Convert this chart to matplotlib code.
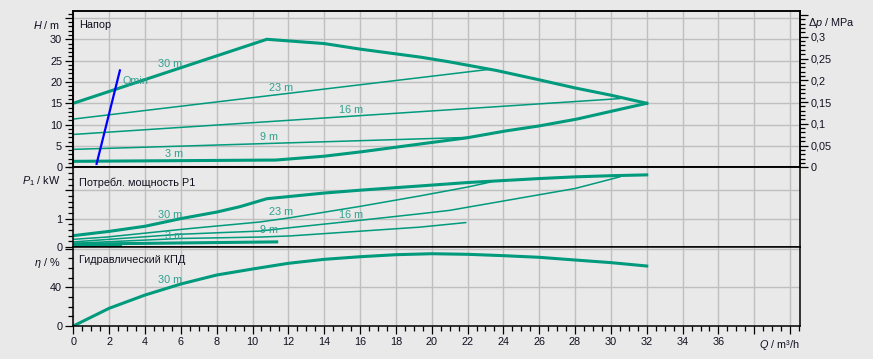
import matplotlib
matplotlib.use("Agg")
import matplotlib.pyplot as plt
import numpy as np
from matplotlib.ticker import FixedLocator, MultipleLocator

plt.rcParams['font.family'] = ['Liberation Sans', 'DejaVu Sans']
plt.rcParams['mathtext.fontset'] = 'custom'
plt.rcParams['mathtext.rm'] = 'Liberation Sans'
plt.rcParams['mathtext.it'] = 'Liberation Sans:italic'

# head curves, H / m over Q / m3/h
q_h30 = [0, 10.8, 14, 16, 19.4, 21, 23.6, 26, 28, 30, 32]
h_30 = [15, 30, 29, 27.7, 25.8, 24.7, 22.7, 20.5, 18.6, 16.9, 15]
q_h23 = [0, 23.3]
h_23 = [11.3, 23.0]
q_h16 = [0, 30.5]
h_16 = [7.7, 16.1]
q_h9 = [0, 22]
h_9 = [4.2, 7.0]
q_h3 = [0, 11.3, 14, 16.1, 19.35, 21.95, 24.1, 26, 28.1, 30.1, 32]
h_3 = [1.4, 1.7, 2.6, 3.65, 5.46, 6.9, 8.5, 9.7, 11.3, 13.2, 15]
q_qmin = [1.3, 2.6]
h_qmin = [0.8, 22.7]

# power input P1 / kW
q_p30 = [0, 2, 4, 6, 8, 9.3, 10.8, 14, 16, 19.35, 22, 26, 28, 30, 32]
p_30 = [0.40, 0.55, 0.73, 1.0, 1.23, 1.42, 1.70, 1.90, 2.0, 2.15, 2.27, 2.41, 2.47, 2.51, 2.54]
q_p23 = [0, 1.86, 6.5, 10.4, 12.1, 16, 19.35, 22, 23.3]
p_23 = [0.27, 0.35, 0.65, 0.88, 1.03, 1.43, 1.80, 2.11, 2.29]
q_p16 = [0, 6, 10.4, 12.1, 16, 19.35, 21, 24, 26, 28, 30.5]
p_16 = [0.18, 0.45, 0.56, 0.68, 0.94, 1.17, 1.29, 1.62, 1.84, 2.06, 2.47]
q_p9 = [0, 6, 10.4, 12.1, 19.35, 21.9]
p_9 = [0.13, 0.30, 0.35, 0.39, 0.70, 0.86]
q_p3 = [0, 11.35]
p_3 = [0.10, 0.18]
q_p3b = [0, 2.6]
p_3b = [0.06, 0.06]

# hydraulic efficiency / %
q_eta = [0, 2, 4, 6, 8, 10, 12, 14, 16, 18, 20, 22, 24, 26, 28, 30, 32]
eta_30 = [0, 18.3, 32, 43.4, 52.7, 58.9, 64.8, 68.9, 71.6, 73.7, 74.7, 74.1, 72.7, 71.0, 68.2, 65.5, 62.0]

h_ticks = [0, 5, 10, 15, 20, 25, 30, 35]
h_labels = ['0', '5', '10', '15', '20', '25', '30', '']
dp_ticks = [0, 0.05, 0.1, 0.15, 0.2, 0.25, 0.3, 0.35]
dp_labels = ['0', '0,05', '0,1', '0,15', '0,2', '0,25', '0,3', '']
p_ticks = [0, 1, 2]
p_labels = ['0', '1', '']
eta_ticks = [0, 40, 80]
eta_labels = ['0', '40', '']
q_ticks = list(range(0, 41, 2))
q_labels = [str(v) for v in range(0, 37, 2)] + ['', '']

teal = '#009a7c'
lab_teal = '#2fa08e'
bg = '#e9e9e9'
grid_c = '#bfbfbf'
txt = '#101020'
fs = 7.8

W, H = 873, 359
fig = plt.figure(figsize=(W / 100, H / 100), dpi=100, facecolor=bg)

x0, x1 = 73.3, 800


def make_ax(ytop, ybot):
    ax = fig.add_axes([x0 / W, 1 - ybot / H, (x1 - x0) / W, (ybot - ytop) / H])
    ax.set_facecolor(bg)
    for s in ax.spines.values():
        s.set_linewidth(1.1)
        s.set_color('black')
    ax.set_xlim(0, (x1 - x0) / 17.92)
    ax.xaxis.set_major_locator(FixedLocator(q_ticks))
    ax.grid(True, color=grid_c, lw=1.0)
    ax.set_axisbelow(True)
    ax.tick_params(axis='both', which='major', direction='out', length=6, width=0.9,
                   labelsize=fs, pad=2, labelcolor=txt)
    ax.tick_params(axis='both', which='minor', direction='out', length=3.5, width=0.9)
    return ax


ax1 = make_ax(11, 167.3)
ax2 = make_ax(167.3, 247)
ax3 = make_ax(247, 326)

# top panel: head
ax1.set_ylim(0, 156.3 / 4.267)
ax1.yaxis.set_major_locator(FixedLocator(h_ticks))
ax1.set_yticklabels(h_labels)
ax1.yaxis.set_minor_locator(MultipleLocator(1))
ax1.tick_params(axis='x', which='both', bottom=False, labelbottom=False)
ax1.plot(q_h23, h_23, color=teal, lw=1.1)
ax1.plot(q_h16, h_16, color=teal, lw=1.1)
ax1.plot(q_h9, h_9, color=teal, lw=1.1)
ax1.plot(q_h30, h_30, color=teal, lw=2.2)
ax1.plot(q_h3, h_3, color=teal, lw=2.2)
ax1.plot(q_qmin, h_qmin, color='#0000ff', lw=1.6)
for s, xq, yh in [('30 m', 5.4, 24.2), ('23 m', 11.6, 18.7), ('16 m', 15.5, 13.4),
                  ('9 m', 10.9, 7.2), ('3 m', 5.6, 3.0), ('Qmin', 3.45, 20.2)]:
    ax1.text(xq, yh, s, color=lab_teal, fontsize=fs, ha='center', va='center')
ax1.text(0.008, 0.91, 'Напор', transform=ax1.transAxes, fontsize=fs, color=txt, va='center')
ax1.text(-0.0175, 33.4, '$H$ / m', transform=ax1.get_yaxis_transform(), fontsize=fs,
         color=txt, ha='right', va='center')

axr = ax1.twinx()
axr.set_ylim(0, 156.3 / 4.267 * 0.00980665)
axr.yaxis.set_major_locator(FixedLocator(dp_ticks))
axr.set_yticklabels(dp_labels)
axr.yaxis.set_minor_locator(MultipleLocator(0.01))
axr.tick_params(axis='y', which='major', direction='out', length=6, width=0.9,
                labelsize=fs, pad=2, labelcolor=txt)
axr.tick_params(axis='y', which='minor', direction='out', length=3.5, width=0.9)
for s in axr.spines.values():
    s.set_linewidth(1.1)
axr.text(1.0105, 0.331, '$\\Delta p$ / MPa', transform=axr.get_yaxis_transform(),
         fontsize=fs, color=txt, ha='left', va='center')

# middle panel: power
ax2.set_ylim(0, 79.7 / 28.4)
ax2.yaxis.set_major_locator(FixedLocator(p_ticks))
ax2.set_yticklabels(p_labels)
ax2.yaxis.set_minor_locator(MultipleLocator(0.2))
ax2.tick_params(axis='x', which='both', bottom=False, labelbottom=False)
ax2.plot(q_p23, p_23, color=teal, lw=1.1)
ax2.plot(q_p16, p_16, color=teal, lw=1.1)
ax2.plot(q_p9, p_9, color=teal, lw=1.1)
ax2.plot(q_p30, p_30, color=teal, lw=2.2)
ax2.plot(q_p3, p_3, color=teal, lw=2.2)
ax2.plot(q_p3b, p_3b, color=teal, lw=2.2)
for s, xq, yp in [('30 m', 5.4, 1.14), ('23 m', 11.6, 1.23), ('16 m', 15.5, 1.12),
                  ('9 m', 10.9, 0.59), ('3 m', 5.6, 0.38)]:
    ax2.text(xq, yp, s, color=lab_teal, fontsize=fs, ha='center', va='center')
ax2.text(0.008, 0.81, 'Потребл. мощность P1', transform=ax2.transAxes, fontsize=fs,
         color=txt, va='center')
ax2.text(-0.0175, 2.31, '$P_1$ / kW', transform=ax2.get_yaxis_transform(), fontsize=fs,
         color=txt, ha='right', va='center')

# bottom panel: efficiency
ax3.set_ylim(0, 79 / 0.9675)
ax3.yaxis.set_major_locator(FixedLocator(eta_ticks))
ax3.set_yticklabels(eta_labels)
ax3.yaxis.set_minor_locator(MultipleLocator(10))
ax3.xaxis.set_minor_locator(MultipleLocator(0.5))
ax3.set_xticklabels(q_labels)
ax3.plot(q_eta, eta_30, color=teal, lw=2.2)
ax3.text(5.4, 47.5, '30 m', color=lab_teal, fontsize=fs, ha='center', va='center')
ax3.text(0.008, 0.83, 'Гидравлический КПД', transform=ax3.transAxes, fontsize=fs,
         color=txt, va='center')
ax3.text(-0.0175, 65.5, '$\\eta$ / %', transform=ax3.get_yaxis_transform(), fontsize=fs,
         color=txt, ha='right', va='center')
ax3.text(1.0, -0.24, '$Q$ / m³/h', transform=ax3.transAxes, fontsize=fs, color=txt,
         ha='right', va='center')

fig.savefig('out.png', dpi=100, facecolor=bg)
